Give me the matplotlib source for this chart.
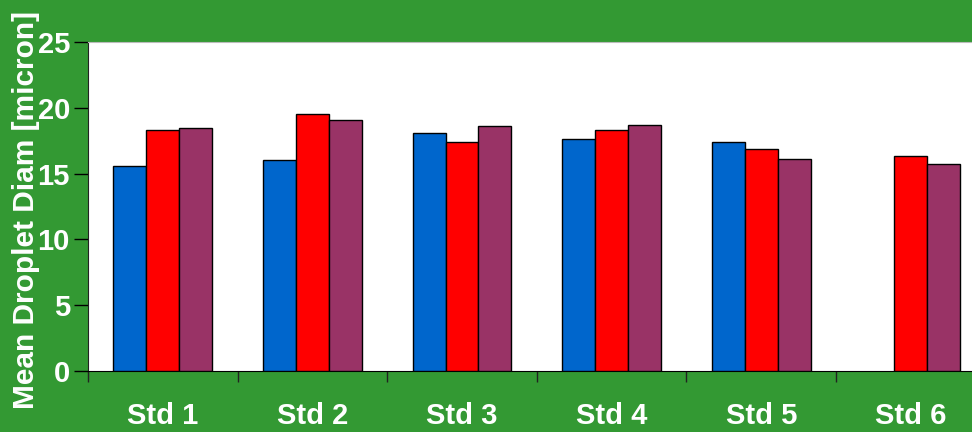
import numpy as np
import matplotlib.pyplot as plt

categories = ["Std 1", "Std 2", "Std 3", "Std 4", "Std 5", "Std 6"]
series_a = [15.6, 16.0, 18.1, 17.6, 17.4, np.nan]
series_b = [18.3, 19.5, 17.4, 18.3, 16.9, 16.3]
series_c = [18.5, 19.1, 18.6, 18.7, 16.1, 15.7]
yticks = [0, 5, 10, 15, 20, 25]


def main():
    green = "#339933"
    plt.rcParams['font.family'] = ['Liberation Sans', 'DejaVu Sans']
    fig = plt.figure(figsize=(9.72, 4.32), dpi=100, facecolor=green)
    ax = fig.add_axes([88/972, 61/432, 884/972, 329/432])
    ax.set_facecolor("white")

    x = np.arange(len(categories))
    w = 0.22
    colors = ["#0066CC", "#FF0000", "#993366"]
    for k, vals in enumerate([series_a, series_b, series_c]):
        ax.bar(x + (k - 1)*w, vals, w, color=colors[k],
               edgecolor="black", linewidth=1.0, zorder=3)

    # ticks at group boundaries, labels at group centres
    ax.set_xticks(np.arange(len(categories) + 1) - 0.5)
    ax.set_xticklabels([])
    ax.set_xticks(x, minor=True)
    ax.set_xticklabels(categories, minor=True)
    ax.tick_params(axis="x", which="major", direction="out", length=8,
                   width=1, color="#222222")
    ax.tick_params(axis="x", which="minor", length=0, pad=22,
                   labelsize=21, labelcolor="white")
    for t in ax.get_xticklabels(minor=True):
        t.set_fontweight("bold")

    ax.set_yticks(yticks)
    ax.tick_params(axis="y", direction="out", length=10, width=1,
                   labelsize=21, labelcolor="white", pad=3)
    for t in ax.get_yticklabels():
        t.set_fontweight("bold")

    ax.set_xlim(-0.5, -0.5 + 884/149.6)
    ax.set_ylim(0, 25)

    ax.set_ylabel("Mean Droplet Diam [micron]", color="white",
                  fontsize=21.5, fontweight="bold")
    ax.yaxis.set_label_coords(-0.054, 0.49)

    ax.spines["top"].set_color("#bbbbbb")
    ax.spines["right"].set_visible(False)
    ax.spines["left"].set_color("#222222")
    ax.spines["bottom"].set_color("black")

    fig.savefig("out.png", dpi=100, facecolor=green)


if __name__ == "__main__":
    main()
